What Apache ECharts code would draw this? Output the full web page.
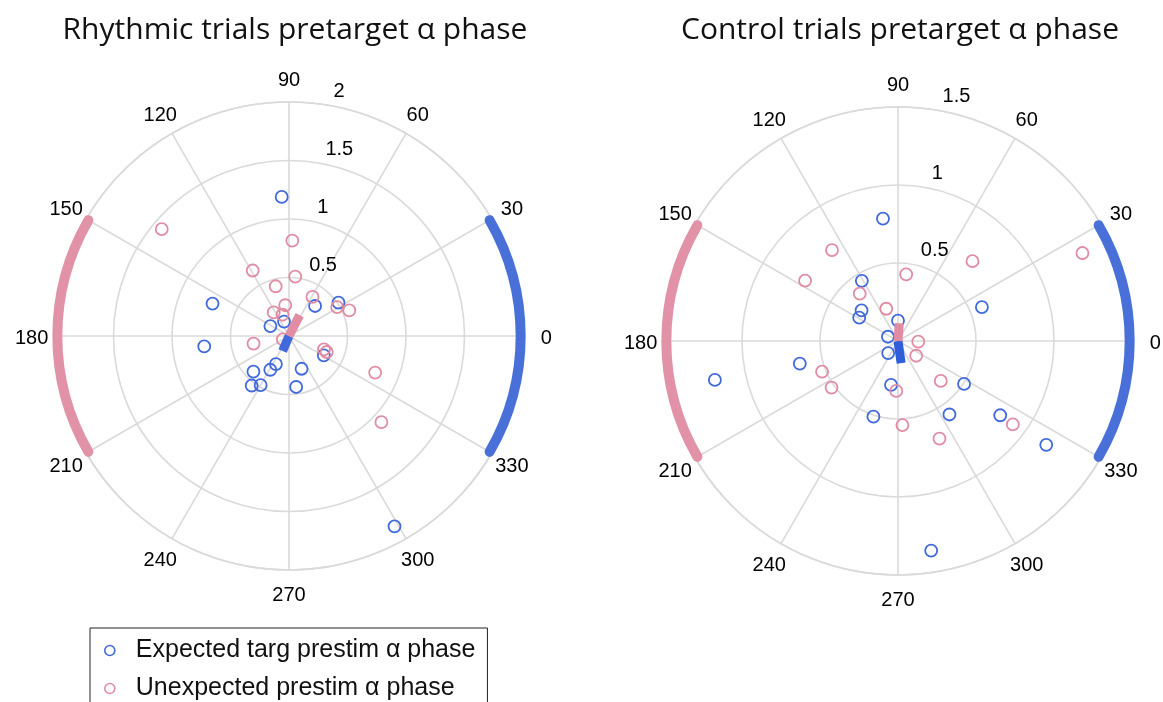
<!DOCTYPE html>
<html>
<head>
<meta charset="utf-8">
<script src="https://cdn.jsdelivr.net/npm/echarts@6/dist/echarts.min.js"></script>
<style>
  html, body { margin: 0; padding: 0; background: #fff; }
  #chart { width: 1163px; height: 702px; }
</style>
</head>
<body>
<div id="chart"></div>
<script>
// Pretarget alpha phase per subject: each point is [amplitude, phase in degrees]
const rhythmicExpected = [
  [1.19, 93], [0.71, 157], [0.73, 187], [0.51, 34], [0.34, 49], [0.34, 331],
  [0.18, 152], [0.13, 109], [0.265, 245], [0.33, 241], [0.43, 225], [0.485, 240],
  [0.53, 233], [0.30, 291], [0.44, 278], [1.86, 299]
];
const rhythmicUnexpected = [
  [1.42, 140], [0.815, 88], [0.64, 119], [0.51, 84], [0.44, 105], [0.39, 59],
  [0.48, 31], [0.56, 23], [0.265, 97], [0.24, 123], [0.19, 107], [0.31, 192],
  [0.06, 209], [0.32, 339], [0.35, 337], [0.80, 337], [1.08, 317]
];
const controlExpected = [
  [0.79, 97], [0.45, 121], [0.305, 140], [0.29, 149], [0.13, 90], [0.07, 157],
  [0.10, 231], [0.58, 22], [0.646, 193], [1.20, 192], [0.285, 261], [0.51, 252],
  [0.575, 305], [0.505, 327], [0.81, 324], [1.16, 325], [1.36, 279]
];
const controlUnexpected = [
  [0.72, 126], [0.71, 147], [0.43, 83], [0.70, 47], [1.31, 25.5], [0.39, 129],
  [0.22, 110], [0.13, 358], [0.15, 321], [0.525, 202], [0.52, 215], [0.32, 268],
  [0.375, 317], [0.54, 273], [0.68, 293], [0.91, 324]
];

// Mean resultant vectors [length, direction]
const rhythmicMeanExpected = [0.14, 247];
const rhythmicMeanUnexpected = [0.20, 63];
const controlMeanExpected = [0.144, 278];
const controlMeanUnexpected = [0.114, 86];

// Predicted phase windows [start angle, end angle]
const expectedWindow = [-30, 30];
const unexpectedWindow = [150, 210];

// Axis ticks
const angleTicks = [0, 30, 60, 90, 120, 150, 180, 210, 240, 270, 300, 330];
const rhythmicRadiusTicks = [0.5, 1, 1.5, 2];
const controlRadiusTicks = [0.5, 1, 1.5];
const rhythmicRMax = 2;
const controlRMax = 1.5;

const titles = ['Rhythmic trials pretarget α phase', 'Control trials pretarget α phase'];
const expectedName = 'Expected targ prestim α phase';
const unexpectedName = 'Unexpected prestim α phase';

const BLUE = '#4169dc';
const PINK = '#e08ca2';
const ARC_BLUE = '#4870d8';
const ARC_PINK = '#e192a6';
const GRID = '#dadada';
const TEXT = '#000000';
const LABEL_FONT = '"Liberation Sans", Arial, Helvetica, sans-serif';
const RING_LABEL_ANGLE = 82;     // ring values are written along this ray
const ANGLE_LABEL_SCALE = 1.1;   // angle labels sit just outside the outer ring
const ARC_SCALE = 0.99;          // phase windows hug the outer ring

const chart = echarts.init(document.getElementById('chart'), null, { renderer: 'canvas' });

function angleAxis(idx) {
  return {
    polarIndex: idx,
    type: 'value',
    min: 0,
    max: 360,
    interval: 30,
    startAngle: 0,
    clockwise: false,
    axisLine: { show: true, lineStyle: { color: GRID, width: 1.6 } },
    axisTick: { show: false },
    axisLabel: { show: false },
    splitLine: { show: true, lineStyle: { color: GRID, width: 1.6 } }
  };
}

function radiusAxis(idx, rmax) {
  return {
    polarIndex: idx,
    type: 'value',
    min: 0,
    max: rmax,
    interval: 0.5,
    axisLine: { show: false },
    axisTick: { show: false },
    axisLabel: { show: false },
    splitLine: { show: true, lineStyle: { color: GRID, width: 1.6 } }
  };
}

function points(idx, name, data, color) {
  return {
    type: 'scatter',
    name: name,
    coordinateSystem: 'polar',
    polarIndex: idx,
    symbol: 'circle',
    symbolSize: 12,
    itemStyle: { color: 'rgba(0,0,0,0)', borderColor: color, borderWidth: 1.8, opacity: 1 },
    emphasis: { disabled: true },
    data: data,
    z: 3
  };
}

function meanVector(idx, vec, color) {
  return {
    type: 'line',
    coordinateSystem: 'polar',
    polarIndex: idx,
    symbol: 'none',
    clip: false,
    lineStyle: { color: color, width: 9, cap: 'butt' },
    data: [[0, vec[1]], [vec[0], vec[1]]],
    silent: true,
    z: 5
  };
}

function windowArc(idx, rmax, win, color) {
  return {
    type: 'custom',
    coordinateSystem: 'polar',
    polarIndex: idx,
    silent: true,
    clip: false,
    dimensions: ['radius', 'angle', 'angleEnd'],
    encode: { radius: 0, angle: 1 },
    data: [[rmax * ARC_SCALE, win[0], win[1]]],
    renderItem: function (params, api) {
      const c = api.coord([0, api.value(1)]);
      const p1 = api.coord([api.value(0), api.value(1)]);
      const p2 = api.coord([api.value(0), api.value(2)]);
      const r = Math.hypot(p1[0] - c[0], p1[1] - c[1]);
      const a1 = Math.atan2(p1[1] - c[1], p1[0] - c[0]);
      const a2 = Math.atan2(p2[1] - c[1], p2[0] - c[0]);
      return {
        type: 'arc',
        shape: { cx: c[0], cy: c[1], r: r, startAngle: a2, endAngle: a1, clockwise: true },
        style: { stroke: color, lineWidth: 10, lineCap: 'round', fill: null }
      };
    },
    z: 4
  };
}

const labelText = {
  fontSize: 20,
  fontFamily: LABEL_FONT,
  color: TEXT,
  opacity: 1,
  textBorderWidth: 0
};

// Text-only series: ring values along a fixed ray
function ringLabels(idx, ticks) {
  return {
    type: 'scatter',
    coordinateSystem: 'polar',
    polarIndex: idx,
    symbolSize: 0,
    silent: true,
    clip: false,
    data: ticks.map(t => [t, RING_LABEL_ANGLE]),
    label: Object.assign({
      show: true,
      position: [0, 0],
      align: 'left',
      verticalAlign: 'middle',
      offset: [12, -13],
      formatter: p => String(p.value[0])
    }, labelText),
    z: 6
  };
}

// Text-only series: angle values centred just outside the outer ring
function angleLabels(idx, rmax) {
  return {
    type: 'scatter',
    coordinateSystem: 'polar',
    polarIndex: idx,
    symbol: 'circle',
    symbolSize: 1,
    itemStyle: { color: 'rgba(0,0,0,0)' },
    silent: true,
    clip: false,
    data: angleTicks.map(a => [rmax * ANGLE_LABEL_SCALE, a]),
    label: Object.assign({
      show: true,
      position: [0.5, 2.5],
      align: 'center',
      verticalAlign: 'middle',
      formatter: p => String(p.value[1])
    }, labelText),
    labelLayout: { hideOverlap: false },
    z: 6
  };
}

const titleStyle = { fontFamily: '"Open Sans", sans-serif', fontWeight: 'normal', fontSize: 30, color: '#111' };

const option = {
  animation: false,
  backgroundColor: '#ffffff',
  title: [
    { text: titles[0], left: 290, top: 10, textAlign: 'center', textStyle: titleStyle },
    { text: titles[1], left: 895, top: 10, textAlign: 'center', textStyle: titleStyle }
  ],
  legend: {
    orient: 'vertical',
    left: 90,
    top: 628,
    height: 150,
    padding: [10, 12, 14, 14],
    itemGap: 13,
    itemWidth: 10,
    itemHeight: 10,
    borderColor: '#222',
    borderWidth: 1,
    backgroundColor: '#fff',
    selectedMode: false,
    textStyle: { fontSize: 25, fontFamily: LABEL_FONT, color: '#111', padding: [0, 0, 0, 16] },
    data: [
      { name: expectedName, icon: 'circle', itemStyle: { color: 'rgba(0,0,0,0)', borderColor: BLUE, borderWidth: 1.6 } },
      { name: unexpectedName, icon: 'circle', itemStyle: { color: 'rgba(0,0,0,0)', borderColor: PINK, borderWidth: 1.6 } }
    ]
  },
  polar: [
    { center: [289, 336], radius: 234 },
    { center: [898, 341], radius: 234 }
  ],
  angleAxis: [angleAxis(0), angleAxis(1)],
  radiusAxis: [radiusAxis(0, rhythmicRMax), radiusAxis(1, controlRMax)],
  series: [
    windowArc(0, rhythmicRMax, expectedWindow, ARC_BLUE),
    windowArc(0, rhythmicRMax, unexpectedWindow, ARC_PINK),
    points(0, expectedName, rhythmicExpected, BLUE),
    points(0, unexpectedName, rhythmicUnexpected, PINK),
    meanVector(0, rhythmicMeanExpected, BLUE),
    meanVector(0, rhythmicMeanUnexpected, PINK),
    ringLabels(0, rhythmicRadiusTicks),
    angleLabels(0, rhythmicRMax),

    windowArc(1, controlRMax, expectedWindow, ARC_BLUE),
    windowArc(1, controlRMax, unexpectedWindow, ARC_PINK),
    points(1, expectedName, controlExpected, BLUE),
    points(1, unexpectedName, controlUnexpected, PINK),
    meanVector(1, controlMeanExpected, '#2f5fd8'),
    meanVector(1, controlMeanUnexpected, PINK),
    ringLabels(1, controlRadiusTicks),
    angleLabels(1, controlRMax)
  ]
};

chart.setOption(option);
</script>
</body>
</html>
